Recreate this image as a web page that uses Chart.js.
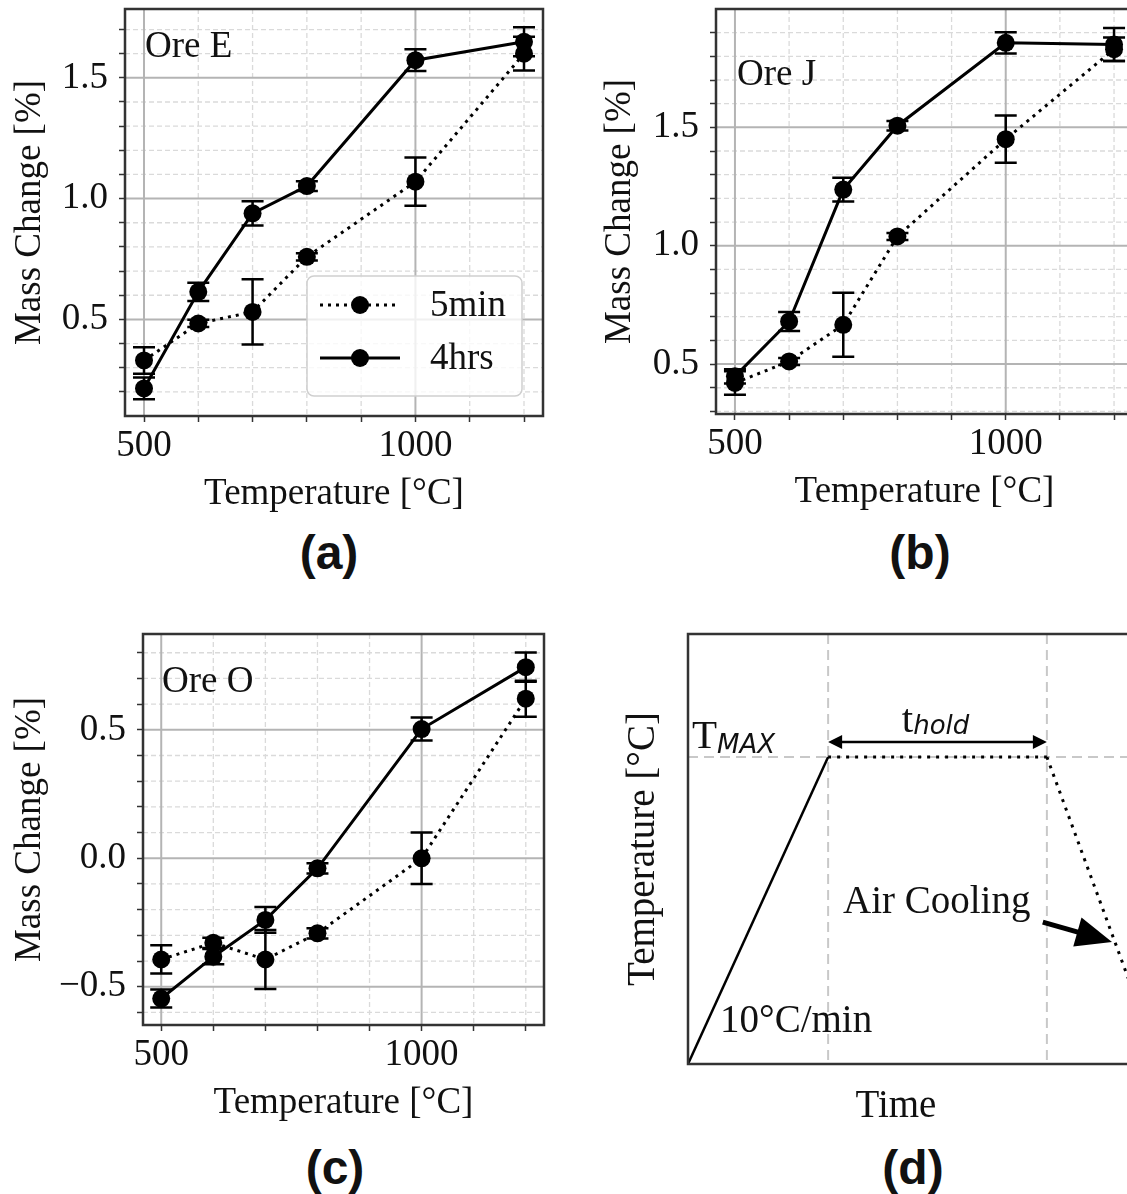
<!DOCTYPE html>
<html>
<head>
<meta charset="utf-8">
<script src="https://cdn.jsdelivr.net/npm/chart.js@4.4.1/dist/chart.umd.min.js"></script>
<style>
  html, body { margin: 0; padding: 0; background: #fff; }
  body { width: 1127px; height: 1194px; overflow: hidden; position: relative; }
  canvas { position: absolute; }
  .tag { position: absolute; font: bold 48px "Liberation Sans", Arial, sans-serif; line-height: 48px;
         transform: translateX(-50%); white-space: nowrap; color: #111; }
</style>
</head>
<body>
<canvas id="chartA" width="560" height="516" style="left:0px;top:0px"></canvas>
<canvas id="chartB" width="560" height="514" style="left:590px;top:0px"></canvas>
<canvas id="chartC" width="562" height="500" style="left:0px;top:625px"></canvas>
<canvas id="chartD" width="538" height="505" style="left:612px;top:625px"></canvas>
<div class="tag" style="left:329px;top:529px">(a)</div>
<div class="tag" style="left:920px;top:529px">(b)</div>
<div class="tag" style="left:335px;top:1144px">(c)</div>
<div class="tag" style="left:913px;top:1144px">(d)</div>
<script>
// --- DATOS ---

const temps = [500, 600, 700, 800, 1000, 1200];
const seriesNames = ['5min', '4hrs'];

const xTicks = [500, 600, 700, 800, 900, 1000, 1100, 1200];
const xMajor = [500, 1000];
const xLabels = ['500', '1000'];

// Ore E
const oreE5min = [0.33, 0.483, 0.531, 0.759, 1.07, 1.60];
const oreE5minErr = [0.055, 0.015, 0.135, 0.015, 0.10, 0.07];
const oreE4hrs = [0.214, 0.614, 0.939, 1.052, 1.573, 1.649];
const oreE4hrsErr = [0.045, 0.038, 0.05, 0.02, 0.045, 0.06];
const oreEYTicks = [0.2, 0.3, 0.4, 0.5, 0.6, 0.7, 0.8, 0.9, 1.0, 1.1, 1.2, 1.3, 1.4, 1.5, 1.6, 1.7];
const oreEYMajor = [0.5, 1.0, 1.5];
const oreEYLabels = ['0.5', '1.0', '1.5'];

// Ore J
const oreJ5min = [0.42, 0.511, 0.666, 1.039, 1.45, 1.83];
const oreJ5minErr = [0.05, 0.015, 0.135, 0.015, 0.10, 0.05];
const oreJ4hrs = [0.448, 0.68, 1.237, 1.507, 1.857, 1.85];
const oreJ4hrsErr = [0.03, 0.04, 0.05, 0.02, 0.045, 0.07];
const oreJYTicks = [0.3, 0.4, 0.5, 0.6, 0.7, 0.8, 0.9, 1.0, 1.1, 1.2, 1.3, 1.4, 1.5, 1.6, 1.7, 1.8, 1.9];
const oreJYMajor = [0.5, 1.0, 1.5];
const oreJYLabels = ['0.5', '1.0', '1.5'];

// Ore O
const oreO5min = [-0.394, -0.329, -0.394, -0.292, 0.0, 0.621];
const oreO5minErr = [0.055, 0.02, 0.115, 0.02, 0.10, 0.07];
const oreO4hrs = [-0.546, -0.383, -0.24, -0.039, 0.503, 0.744];
const oreO4hrsErr = [0.035, 0.03, 0.05, 0.02, 0.045, 0.057];
const oreOYTicks = [-0.6, -0.5, -0.4, -0.3, -0.2, -0.1, 0.0, 0.1, 0.2, 0.3, 0.4, 0.5, 0.6, 0.7, 0.8];
const oreOYMajor = [-0.5, 0.0, 0.5];
const oreOYLabels = ['\u22120.5', '0.0', '0.5'];

// Ciclo termico (d), unidades relativas
const rampTime = [0, 31];
const rampTemp = [0, 0.714];
const holdTime = [31, 79.4];
const holdTemp = [0.714, 0.714];
const coolTime = [79.4, 100];
const coolTemp = [0.714, 0.125];
const cycleMarks = [31, 79.4];
const tMax = 0.714;

// --- ESTILO ---

const SERIF = '"Liberation Serif", "Times New Roman", serif';
const MATH = '"DejaVu Sans", sans-serif';
const INK = '#111';
const FRAME = '#333';

function labelFor(v, major, labels) {
    const i = major.findIndex(m => Math.abs(m - v) < 1e-6);
    return i >= 0 ? labels[i] : '';
}

function pts(xs, ys) {
    return xs.map((x, i) => ({ x: x, y: ys[i] }));
}

// quita el margen extra que Chart.js reserva para las etiquetas vacias
function noOverflow(s) {
    s.paddingTop = 0; s.paddingBottom = 0; s.paddingLeft = 0; s.paddingRight = 0;
}

function axes(p) {
    const tickFont = { family: SERIF, size: 37, lineHeight: 1.2 };
    const titleFont = { family: SERIF, size: p.titleSize, lineHeight: 1.2 };
    return {
        x: {
            type: 'linear', min: p.xMin, max: p.xMax,
            afterBuildTicks: s => { s.ticks = p.xTicks.map(v => ({ value: v })); },
            afterFit: s => { s.height = p.xAxisH; noOverflow(s); },
            ticks: { display: p.showTicks, autoSkip: false, minRotation: 0, maxRotation: 0, padding: 2,
                     color: INK, font: tickFont, callback: v => labelFor(v, p.xMajor, p.xLabels) },
            grid: { drawOnChartArea: false, drawTicks: p.showTicks, tickLength: 6, tickWidth: 1.5, tickColor: FRAME },
            border: { display: false },
            title: { display: p.xTitle !== '', text: p.xTitle, color: INK, font: titleFont, padding: 0 }
        },
        y: {
            type: 'linear', position: 'left', min: p.yMin, max: p.yMax,
            afterBuildTicks: s => { s.ticks = p.yTicks.map(v => ({ value: v })); },
            afterFit: s => { s.width = p.yAxisW; noOverflow(s); },
            ticks: { display: p.showTicks, autoSkip: false, padding: 11, color: INK, font: tickFont,
                     callback: v => labelFor(v, p.yMajor, p.yLabels) },
            grid: { drawOnChartArea: false, drawTicks: p.showTicks, tickLength: 6, tickWidth: 1.5, tickColor: FRAME },
            border: { display: false },
            title: { display: true, text: p.yTitle, color: INK, font: titleFont, padding: { top: 8, bottom: 0 } }
        }
    };
}

// --- PLUGIN: rejilla, barras de error, marco, textos ---

function decor(cfg) {
    return {
        id: 'decor',
        beforeDatasetsDraw(chart) {
            const { ctx, chartArea: a, scales: { x, y } } = chart;
            ctx.save();
            ctx.beginPath();
            ctx.rect(a.left, a.top, a.right - a.left, a.bottom - a.top);
            ctx.clip();
            (cfg.grid || []).forEach(g => {
                ctx.lineWidth = g.width;
                ctx.strokeStyle = g.color;
                ctx.setLineDash(g.dash || []);
                (g.x || []).forEach(v => {
                    const px = x.getPixelForValue(v);
                    ctx.beginPath(); ctx.moveTo(px, a.top); ctx.lineTo(px, a.bottom); ctx.stroke();
                });
                (g.y || []).forEach(v => {
                    const py = y.getPixelForValue(v);
                    ctx.beginPath(); ctx.moveTo(a.left, py); ctx.lineTo(a.right, py); ctx.stroke();
                });
            });
            ctx.restore();

            ctx.save();
            ctx.strokeStyle = '#000';
            ctx.lineWidth = 2.5;
            chart.data.datasets.forEach(ds => {
                if (!ds.yErr) return;
                ds.data.forEach((p, i) => {
                    const e = ds.yErr[i];
                    const px = x.getPixelForValue(p.x);
                    const lo = y.getPixelForValue(p.y - e);
                    const hi = y.getPixelForValue(p.y + e);
                    ctx.beginPath();
                    ctx.moveTo(px, lo); ctx.lineTo(px, hi);
                    ctx.moveTo(px - 11, lo); ctx.lineTo(px + 11, lo);
                    ctx.moveTo(px - 11, hi); ctx.lineTo(px + 11, hi);
                    ctx.stroke();
                });
            });
            ctx.restore();
        },
        afterDatasetsDraw(chart) {
            const { ctx, chartArea: a } = chart;
            ctx.save();
            ctx.strokeStyle = FRAME;
            ctx.lineWidth = 2.5;
            ctx.strokeRect(a.left, a.top, a.right - a.left, a.bottom - a.top);

            if (cfg.name) {
                ctx.fillStyle = INK;
                ctx.font = '37px ' + SERIF;
                ctx.textBaseline = 'alphabetic';
                ctx.fillText(cfg.name, a.left + cfg.nameAt[0], a.top + cfg.nameAt[1]);
            }
            if (cfg.legend) drawLegend(chart);
            if (cfg.extra) cfg.extra(chart);
            ctx.restore();
        }
    };
}

function drawLegend(chart) {
    const { ctx, chartArea: a } = chart;
    const w = 215, h = 120;
    const left = a.right - 21 - w, top = a.bottom - 20 - h;
    ctx.save();
    ctx.beginPath();
    ctx.roundRect(left, top, w, h, 7);
    ctx.fillStyle = 'rgba(255,255,255,0.8)';
    ctx.fill();
    ctx.strokeStyle = '#cfcfcf';
    ctx.lineWidth = 1.5;
    ctx.stroke();
    chart.data.datasets.forEach((ds, i) => {
        const yy = top + 29 + i * 53;
        ctx.strokeStyle = '#000';
        ctx.lineWidth = ds.borderWidth;
        ctx.setLineDash(ds.borderDash || []);
        ctx.beginPath(); ctx.moveTo(left + 13, yy); ctx.lineTo(left + 93, yy); ctx.stroke();
        ctx.setLineDash([]);
        ctx.fillStyle = '#000';
        ctx.beginPath(); ctx.arc(left + 53, yy, ds.pointRadius, 0, Math.PI * 2); ctx.fill();
        ctx.fillStyle = INK;
        ctx.font = '37px ' + SERIF;
        ctx.textBaseline = 'middle';
        ctx.fillText(ds.label, left + 123, yy + 1);
    });
    ctx.restore();
}

function arrowHead(ctx, tipX, tipY, dirX, dirY, len, half) {
    const n = Math.hypot(dirX, dirY);
    const ux = dirX / n, uy = dirY / n;
    const bx = tipX - ux * len, by = tipY - uy * len;
    ctx.beginPath();
    ctx.moveTo(tipX, tipY);
    ctx.lineTo(bx - uy * half, by + ux * half);
    ctx.lineTo(bx + uy * half, by - ux * half);
    ctx.closePath();
    ctx.fill();
}

// Anotaciones del esquema (d)
function drawCycleNotes(chart) {
    const { ctx, chartArea: a, scales: { x, y } } = chart;
    ctx.save();
    ctx.fillStyle = INK;
    ctx.strokeStyle = '#000';
    ctx.textBaseline = 'alphabetic';

    // T_MAX
    ctx.font = '41px ' + SERIF;
    let px = x.getPixelForValue(0.9), py = y.getPixelForValue(0.735);
    ctx.fillText('T', px, py);
    const tw = ctx.measureText('T').width;
    ctx.font = 'italic 26px ' + MATH;
    ctx.fillText('MAX', px + tw, py + 5);

    // t_hold + flecha doble
    ctx.font = '41px ' + SERIF;
    px = x.getPixelForValue(47.3); py = y.getPixelForValue(0.772);
    ctx.fillText('t', px, py);
    const sw = ctx.measureText('t').width;
    ctx.font = 'italic 26px ' + MATH;
    ctx.fillText('hold', px + sw, py + 2);

    const ay = y.getPixelForValue(0.749);
    const x1 = x.getPixelForValue(cycleMarks[0]), x2 = x.getPixelForValue(cycleMarks[1]);
    ctx.lineWidth = 2.5;
    ctx.beginPath(); ctx.moveTo(x1 + 10, ay); ctx.lineTo(x2 - 10, ay); ctx.stroke();
    ctx.fillStyle = '#000';
    arrowHead(ctx, x1, ay, -1, 0, 14, 7);
    arrowHead(ctx, x2, ay, 1, 0, 14, 7);

    // Air Cooling
    ctx.fillStyle = INK;
    ctx.font = '39px ' + SERIF;
    ctx.fillText('Air Cooling', x.getPixelForValue(34.3), y.getPixelForValue(0.351));
    const tx = x.getPixelForValue(78.5), ty = y.getPixelForValue(0.330);
    const hx = x.getPixelForValue(93.8), hy = y.getPixelForValue(0.284);
    const dx = hx - tx, dy = hy - ty, n = Math.hypot(dx, dy);
    ctx.lineWidth = 5;
    ctx.beginPath(); ctx.moveTo(tx, ty); ctx.lineTo(hx - dx / n * 30, hy - dy / n * 30); ctx.stroke();
    ctx.fillStyle = '#000';
    arrowHead(ctx, hx, hy, dx, dy, 36, 15);

    // 10°C/min
    ctx.fillStyle = INK;
    ctx.font = '39px ' + SERIF;
    ctx.fillText('10\u00B0C/min', x.getPixelForValue(7.1), y.getPixelForValue(0.074));

    // eje x "Time", algo a la izquierda del centro como en el original
    ctx.textAlign = 'center';
    ctx.textBaseline = 'middle';
    ctx.fillText('Time', x.getPixelForValue(46), a.bottom + 43);
    ctx.restore();
}

// --- GRAFICOS ---

function oreDatasets(v5, e5, v4, e4) {
    return [
        { label: seriesNames[0], data: pts(temps, v5), yErr: e5, borderColor: '#000', borderWidth: 3,
          borderDash: [3, 5], pointRadius: 9, pointBackgroundColor: '#000', pointBorderWidth: 0 },
        { label: seriesNames[1], data: pts(temps, v4), yErr: e4, borderColor: '#000', borderWidth: 3,
          pointRadius: 9, pointBackgroundColor: '#000', pointBorderWidth: 0 }
    ];
}

function oreGrid(yTicks, yMajor) {
    return [
        { x: xTicks.filter(v => !xMajor.includes(v)), y: yTicks.filter(v => !yMajor.includes(v)),
          color: '#dadada', width: 1.3, dash: [5, 3] },
        { x: xMajor, y: yMajor, color: '#b4b4b4', width: 2 }
    ];
}

function oreChart(id, p) {
    new Chart(document.getElementById(id), {
        type: 'line',
        data: { datasets: oreDatasets(p.v5, p.e5, p.v4, p.e4) },
        options: {
            responsive: false, animation: false,
            layout: { padding: { top: 9, right: p.padRight, left: 0, bottom: 0 } },
            elements: { line: { tension: 0 } },
            scales: axes({
                xMin: 465, xMax: 1235, xTicks: xTicks, xMajor: xMajor, xLabels: xLabels,
                yMin: p.yMin, yMax: p.yMax, yTicks: p.yTicks, yMajor: p.yMajor, yLabels: p.yLabels,
                xTitle: 'Temperature [\u00B0C]', yTitle: 'Mass Change [%]', titleSize: 37,
                xAxisH: 100, yAxisW: p.yAxisW, showTicks: true
            }),
            plugins: { legend: { display: false }, tooltip: { enabled: false } }
        },
        plugins: [decor({ grid: oreGrid(p.yTicks, p.yMajor), name: p.name, nameAt: p.nameAt, legend: p.legend })]
    });
}

oreChart('chartA', { v5: oreE5min, e5: oreE5minErr, v4: oreE4hrs, e4: oreE4hrsErr,
    yMin: 0.10, yMax: 1.785, yTicks: oreEYTicks, yMajor: oreEYMajor, yLabels: oreEYLabels,
    yAxisW: 125, padRight: 17, name: 'Ore E', nameAt: [20, 48], legend: true });

oreChart('chartB', { v5: oreJ5min, e5: oreJ5minErr, v4: oreJ4hrs, e4: oreJ4hrsErr,
    yMin: 0.289, yMax: 2.0, yTicks: oreJYTicks, yMajor: oreJYMajor, yLabels: oreJYLabels,
    yAxisW: 126, padRight: 17, name: 'Ore J', nameAt: [21, 76], legend: false });

oreChart('chartC', { v5: oreO5min, e5: oreO5minErr, v4: oreO4hrs, e4: oreO4hrsErr,
    yMin: -0.649, yMax: 0.873, yTicks: oreOYTicks, yMajor: oreOYMajor, yLabels: oreOYLabels,
    yAxisW: 143, padRight: 18, name: 'Ore O', nameAt: [19, 58], legend: false });

new Chart(document.getElementById('chartD'), {
    type: 'line',
    data: {
        datasets: [
            { data: pts(rampTime, rampTemp), borderColor: '#000', borderWidth: 2.5, pointRadius: 0 },
            { data: pts(holdTime, holdTemp), borderColor: '#000', borderWidth: 3, borderDash: [3, 6], pointRadius: 0 },
            { data: pts(coolTime, coolTemp), borderColor: '#000', borderWidth: 3, borderDash: [3, 6], pointRadius: 0 }
        ]
    },
    options: {
        responsive: false, animation: false,
        layout: { padding: { top: 9, right: 10, left: 0, bottom: 0 } },
        elements: { line: { tension: 0 } },
        scales: axes({
            xMin: 0, xMax: 100, xTicks: cycleMarks, xMajor: [], xLabels: [],
            yMin: 0, yMax: 1, yTicks: [tMax], yMajor: [], yLabels: [],
            xTitle: '', yTitle: 'Temperature [\u00B0C]', titleSize: 39,
            xAxisH: 66, yAxisW: 76, showTicks: false
        }),
        plugins: { legend: { display: false }, tooltip: { enabled: false } }
    },
    plugins: [decor({ grid: [{ x: cycleMarks, y: [tMax], color: '#c8c8c8', width: 2, dash: [10, 6] }],
                      extra: drawCycleNotes })]
});
</script>
</body>
</html>
